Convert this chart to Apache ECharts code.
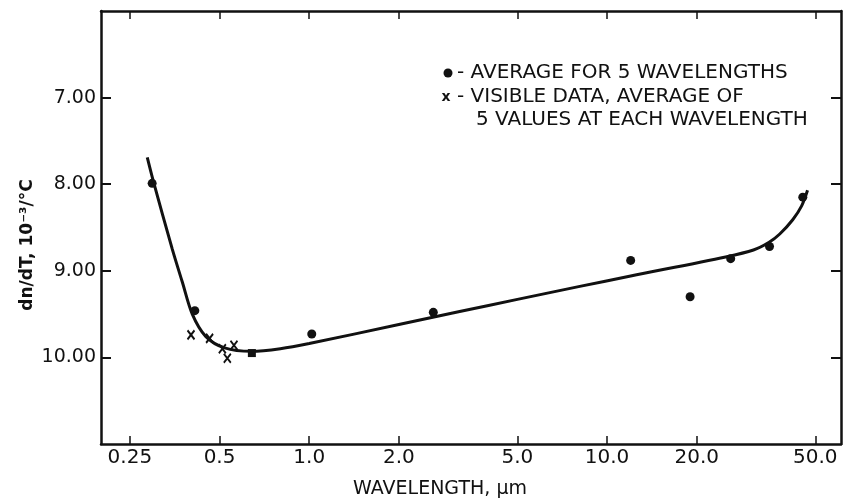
<!DOCTYPE html>
<html>
<head>
<meta charset="utf-8">
<script src="https://cdn.jsdelivr.net/npm/echarts@6/dist/echarts.min.js"></script>
<style>
  html, body { margin: 0; padding: 0; background: #fff; }
  #chart { width: 845px; height: 499px; }
</style>
</head>
<body>
<div id="chart"></div>
<script>
// tick labels on the wavelength axis (log scale)
var xTickValues = [0.25, 0.5, 1, 2, 5, 10, 20, 50];
var xTickLabels = ['0.25', '0.5', '1.0', '2.0', '5.0', '10.0', '20.0', '50.0'];
var yTickValues = [7, 8, 9, 10];

// filled dots: average for 5 wavelengths
var avgWavelength = [0.297, 0.413, 0.642, 1.02, 2.61, 12.0, 19.0, 26.0, 35.1, 45.4];
var avgDnDt = [7.99, 9.46, 9.95, 9.73, 9.48, 8.88, 9.30, 8.86, 8.72, 8.15];

// x marks: visible data
var visWavelength = [0.401, 0.463, 0.511, 0.531, 0.559];
var visDnDt = [9.74, 9.78, 9.90, 10.01, 9.86];

// hand drawn curve through the data
var fitWavelength = [0.286, 0.30, 0.347, 0.375, 0.405, 0.45, 0.52, 0.64, 0.8, 1.0, 2.0, 3.2, 5.0, 8.1, 12, 25, 31, 35, 38, 42, 45, 47.1];
var fitDnDt = [7.69, 7.97, 8.75, 9.13, 9.50, 9.76, 9.89, 9.93, 9.90, 9.84, 9.62, 9.47, 9.33, 9.18, 9.06, 8.84, 8.76, 8.67, 8.575, 8.41, 8.25, 8.07];

var INK = '#111';
var FONT = 'DejaVu Sans';

// the axis is linear in log10(wavelength)
function lg(v) { return Math.log10(v); }
var xLogTicks = xTickValues.map(lg);

function pairs(xs, ys) {
  return xs.map(function (x, i) { return [lg(x), ys[i]]; });
}

var avgData = pairs(avgWavelength, avgDnDt).map(function (p, i) {
  // the 0.64 um point is drawn as a small square blob
  return i === 2 ? { value: p, symbol: 'rect', symbolSize: 8 } : p;
});

var myChart = echarts.init(document.getElementById('chart'));

var frame = { show: true, onZero: false, lineStyle: { color: INK, width: 2.5 } };

myChart.setOption({
  animation: false,
  backgroundColor: '#fff',
  grid: { left: 101, right: 4, top: 11, bottom: 55 },
  xAxis: [
    {
      type: 'value',
      position: 'bottom',
      min: lg(0.2),
      max: lg(61),
      axisLine: frame,
      splitLine: { show: false },
      axisTick: { inside: true, length: 8, customValues: xLogTicks, lineStyle: { color: INK, width: 1.5 } },
      axisLabel: {
        customValues: xLogTicks,
        margin: 4,
        color: INK,
        fontFamily: FONT,
        fontSize: 20,
        formatter: function (v) {
          for (var i = 0; i < xLogTicks.length; i++) {
            if (Math.abs(xLogTicks[i] - v) < 1e-6) return xTickLabels[i];
          }
          return '';
        }
      }
    },
    {
      type: 'value',
      position: 'top',
      min: lg(0.2),
      max: lg(61),
      axisLine: frame,
      splitLine: { show: false },
      axisTick: { inside: true, length: 8, customValues: xLogTicks, lineStyle: { color: INK, width: 1.5 } },
      axisLabel: { show: false }
    }
  ],
  yAxis: [
    {
      type: 'value',
      position: 'left',
      inverse: true,
      min: 6,
      max: 11,
      interval: 1,
      axisLine: frame,
      splitLine: { show: false },
      axisTick: { inside: true, length: 10, customValues: yTickValues, lineStyle: { color: INK, width: 2 } },
      axisLabel: {
        customValues: yTickValues,
        margin: 5,
        color: INK,
        fontFamily: FONT,
        fontSize: 19,
        formatter: function (v) { return v.toFixed(2); }
      }
    },
    {
      type: 'value',
      position: 'right',
      inverse: true,
      min: 6,
      max: 11,
      interval: 1,
      axisLine: frame,
      splitLine: { show: false },
      axisTick: { inside: true, length: 10, customValues: yTickValues, lineStyle: { color: INK, width: 2 } },
      axisLabel: { show: false }
    }
  ],
  graphic: [
    {
      type: 'text', x: 28, y: 245, rotation: Math.PI / 2,
      style: { text: 'dn/dT, 10⁻³/°C', fill: INK, font: 'bold 17px "DejaVu Sans"', align: 'center', verticalAlign: 'middle' }
    },
    {
      type: 'text', x: 440, y: 489,
      style: { text: 'WAVELENGTH, µm', fill: INK, font: '19px "DejaVu Sans"', align: 'center', verticalAlign: 'middle' }
    },
    { type: 'circle', shape: { cx: 448, cy: 73, r: 4.5 }, style: { fill: INK } },
    {
      type: 'text', x: 457, y: 73,
      style: { text: '- AVERAGE FOR 5 WAVELENGTHS', fill: INK, font: '20px "DejaVu Sans"', verticalAlign: 'middle' }
    },
    {
      type: 'text', x: 446, y: 97,
      style: { text: 'x', fill: INK, font: 'bold 14px "DejaVu Sans"', align: 'center', verticalAlign: 'middle' }
    },
    {
      type: 'text', x: 457, y: 97,
      style: { text: '- VISIBLE DATA, AVERAGE OF', fill: INK, font: '20px "DejaVu Sans"', verticalAlign: 'middle' }
    },
    {
      type: 'text', x: 476, y: 120,
      style: { text: '5 VALUES AT EACH WAVELENGTH', fill: INK, font: '20px "DejaVu Sans"', verticalAlign: 'middle' }
    }
  ],
  series: [
    {
      name: 'fit',
      type: 'line',
      data: pairs(fitWavelength, fitDnDt),
      smooth: 0.3,
      showSymbol: false,
      lineStyle: { color: INK, width: 3 },
      z: 2
    },
    {
      name: 'average',
      type: 'scatter',
      data: avgData,
      symbol: 'circle',
      symbolSize: 9,
      itemStyle: { color: INK, opacity: 1 },
      z: 3
    },
    {
      name: 'visible',
      type: 'scatter',
      data: pairs(visWavelength, visDnDt),
      symbol: 'path://M0,0L10,12M10,0L0,12',
      symbolSize: [7, 9],
      itemStyle: { color: 'none', borderColor: INK, borderWidth: 2, opacity: 1 },
      z: 3
    }
  ]
});
</script>
</body>
</html>
